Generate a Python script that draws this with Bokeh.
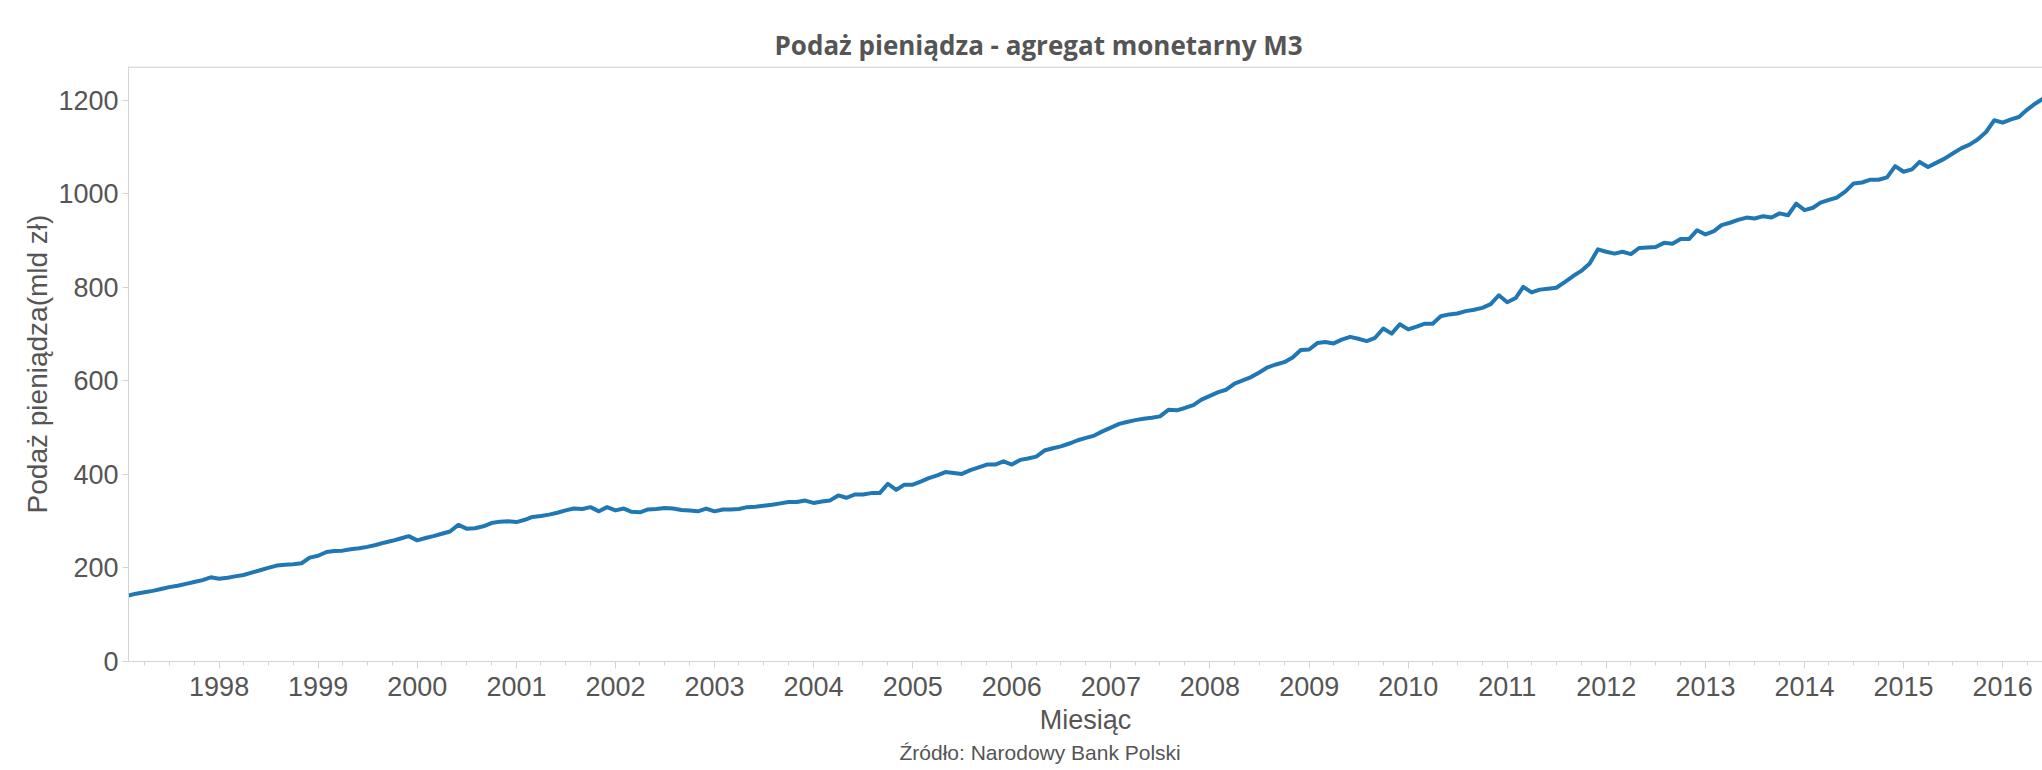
import datetime as dt

from bokeh.plotting import figure
from bokeh.models import Range1d, FixedTicker, DatetimeTickFormatter, Span, Title
from bokeh.embed import file_html
from bokeh.resources import INLINE

# ---------------- data ----------------
TITLE = "Podaż pieniądza - agregat monetarny M3"
Y_LABEL = "Podaż pieniądza(mld zł)"
X_LABEL = "Miesiąc"
SOURCE = "Źródło: Narodowy Bank Polski"

START_YEAR = 1997
START_MONTH = 2  # first observation: February 1997

# M3 money supply, bn zł, monthly
m3_1997 = [141, 145, 148, 151, 155, 159, 162, 166, 170, 174, 180]  # Feb-Dec
m3_1998 = [177, 179, 182, 185, 190, 195, 200, 205, 207, 208, 210, 222]
m3_1999 = [226, 234, 236, 237, 240, 242, 245, 249, 254, 258, 263, 268]
m3_2000 = [259, 264, 268, 273, 278, 292, 284, 285, 289, 296, 299, 300]
m3_2001 = [298, 303, 309, 311, 314, 318, 323, 327, 326, 330, 321, 330]
m3_2002 = [323, 327, 320, 319, 325, 326, 328, 327, 324, 323, 321, 327]
m3_2003 = [321, 325, 325, 326, 330, 331, 333, 335, 338, 341, 341, 344]
m3_2004 = [339, 342, 344, 355, 350, 357, 357, 360, 360, 380, 367, 378]
m3_2005 = [378, 385, 392, 398, 405, 403, 401, 409, 415, 421, 421, 428]
m3_2006 = [421, 431, 434, 438, 451, 456, 460, 466, 473, 478, 483, 492]
m3_2007 = [500, 508, 512, 516, 519, 521, 524, 538, 537, 542, 548, 560]
m3_2008 = [568, 576, 581, 594, 601, 608, 618, 629, 635, 640, 650, 666]
m3_2009 = [667, 681, 683, 680, 688, 694, 690, 685, 692, 712, 701, 721]
m3_2010 = [710, 716, 722, 722, 738, 742, 744, 749, 752, 756, 764, 783]
m3_2011 = [768, 777, 801, 789, 795, 797, 799, 811, 824, 835, 851, 881]
m3_2012 = [876, 872, 876, 871, 884, 885, 886, 895, 893, 903, 903, 922]
m3_2013 = [913, 920, 933, 938, 944, 949, 947, 952, 949, 958, 954, 979]
m3_2014 = [965, 970, 981, 987, 992, 1005, 1022, 1024, 1030, 1030, 1035, 1059]
m3_2015 = [1047, 1052, 1068, 1057, 1066, 1075, 1086, 1097, 1105, 1116, 1132, 1157]
m3_2016 = [1152, 1159, 1164, 1180, 1193, 1204]  # Jan-Jun

m3_values = (m3_1997 + m3_1998 + m3_1999 + m3_2000 + m3_2001 + m3_2002 + m3_2003
             + m3_2004 + m3_2005 + m3_2006 + m3_2007 + m3_2008 + m3_2009 + m3_2010
             + m3_2011 + m3_2012 + m3_2013 + m3_2014 + m3_2015 + m3_2016)

months = []
for i in range(len(m3_values)):
    k = (START_MONTH - 1) + i
    months.append(dt.datetime(START_YEAR + k // 12, k % 12 + 1, 1))

year_ticks = list(range(1998, 2017))
y_ticks = [0, 200, 400, 600, 800, 1000, 1200]
Y_MAX = 1272
X_END = dt.datetime(2016, 5, 27)

# ---------------- helpers ----------------
EPOCH = dt.datetime(1970, 1, 1)


def ms(d):
    return (d - EPOCH).total_seconds() * 1000.0


major_x = [ms(dt.datetime(y, 1, 1)) for y in year_ticks]
minor_x = []
for y in range(1997, 2017):
    for m in (1, 4, 7, 10):
        minor_x.append(ms(dt.datetime(y, m, 1)))

GREY_AXIS = "#d4d4d4"
TEXT = "#555555"
LINE = "#1f77b4"

p = figure(
    width=2042, height=770,
    x_axis_type="datetime",
    x_range=Range1d(start=months[0], end=X_END),
    y_range=Range1d(start=0, end=Y_MAX),
    output_backend="svg", toolbar_location=None,
    min_border_left=128, min_border_right=0,
    min_border_top=66, min_border_bottom=109,
)
p.outline_line_color = None
p.background_fill_color = "white"
p.border_fill_color = "white"
p.xgrid.visible = False
p.ygrid.visible = False

# title
p.title = Title(text=TITLE, align="left", offset=646, standoff=8,
                text_font="Open Sans", text_font_style="bold",
                text_font_size="26px", text_color=TEXT)

# y axis
ya = p.yaxis[0]
ya.ticker = FixedTicker(ticks=y_ticks, minor_ticks=[])
ya.axis_line_color = GREY_AXIS
ya.major_tick_line_color = GREY_AXIS
ya.major_tick_out = 6
ya.major_tick_in = 0
ya.minor_tick_line_color = None
ya.major_label_standoff = 4
ya.major_label_text_font = "Liberation Sans"
ya.major_label_text_font_size = "27px"
ya.major_label_text_color = TEXT
ya.axis_label = Y_LABEL
ya.axis_label_standoff = 2
ya.axis_label_text_font = "Liberation Sans"
ya.axis_label_text_font_size = "28px"
ya.axis_label_text_font_style = "normal"
ya.axis_label_text_color = TEXT

# x axis
xa = p.xaxis[0]
xa.ticker = FixedTicker(ticks=major_x, minor_ticks=minor_x)
xa.formatter = DatetimeTickFormatter(
    years="%Y", months="%Y", days="%Y", hours="%Y", hourmin="%Y",
    minutes="%Y", minsec="%Y", seconds="%Y", milliseconds="%Y",
    microseconds="%Y")
xa.axis_line_color = GREY_AXIS
xa.major_tick_line_color = GREY_AXIS
xa.minor_tick_line_color = GREY_AXIS
xa.major_tick_out = 7
xa.major_tick_in = 0
xa.minor_tick_out = 4
xa.minor_tick_in = 0
xa.major_label_standoff = 8
xa.major_label_text_font = "Liberation Sans"
xa.major_label_text_font_size = "27px"
xa.major_label_text_color = TEXT
xa.axis_label = X_LABEL
xa.axis_label_standoff = 6
xa.axis_label_text_font = "Liberation Sans"
xa.axis_label_text_font_size = "27px"
xa.axis_label_text_font_style = "normal"
xa.axis_label_text_color = TEXT

# source note below the x axis title
p.add_layout(Title(text=SOURCE, align="left", offset=771, standoff=3,
                   text_font="Liberation Sans", text_font_style="normal",
                   text_font_size="21px", text_color=TEXT), "below")

# top border of the pane
p.add_layout(Span(location=Y_MAX - 1, dimension="width",
                  line_color=GREY_AXIS, line_width=1.5))

# the series
p.line(months, m3_values, line_color=LINE, line_width=4, line_join="round")

open("out.html", "w").write(file_html(p, INLINE))
